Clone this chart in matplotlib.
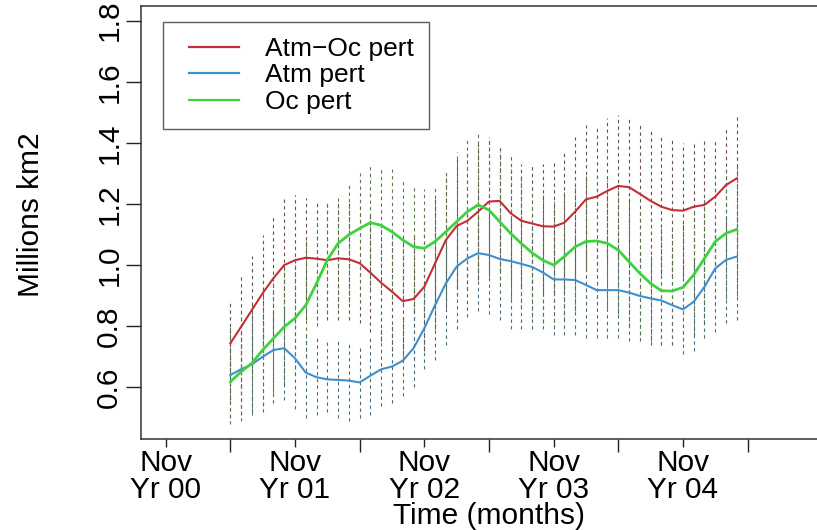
"""
Sea ice extent spread for the three perturbation ensembles
"""
import numpy as np
import matplotlib
matplotlib.use('Agg')
import matplotlib.pyplot as plt
from matplotlib.legend_handler import HandlerLine2D

plt.rcParams['font.family'] = ['Liberation Sans', 'DejaVu Sans']

# months counted from Nov Yr 00
months = np.arange(6, 54)

atm_oc = [0.744, 0.798, 0.853, 0.908, 0.957, 1.000, 1.016, 1.024, 1.021, 1.016,
          1.022, 1.019, 1.006, 0.975, 0.942, 0.913, 0.882, 0.889, 0.929, 1.006,
          1.082, 1.128, 1.145, 1.175, 1.208, 1.210, 1.170, 1.145, 1.136, 1.127,
          1.126, 1.139, 1.175, 1.215, 1.224, 1.243, 1.259, 1.255, 1.233, 1.210,
          1.191, 1.180, 1.178, 1.191, 1.197, 1.224, 1.262, 1.284]
atm = [0.640, 0.659, 0.675, 0.700, 0.722, 0.728, 0.695, 0.648, 0.633, 0.626,
       0.624, 0.622, 0.616, 0.638, 0.659, 0.668, 0.687, 0.728, 0.793, 0.869,
       0.940, 0.995, 1.022, 1.039, 1.033, 1.020, 1.013, 1.004, 0.994, 0.976,
       0.953, 0.953, 0.951, 0.935, 0.918, 0.918, 0.918, 0.910, 0.899, 0.891,
       0.884, 0.869, 0.855, 0.880, 0.929, 0.989, 1.017, 1.028]
oc = [0.618, 0.651, 0.679, 0.722, 0.760, 0.798, 0.826, 0.869, 0.940, 1.017,
      1.071, 1.099, 1.120, 1.139, 1.130, 1.109, 1.082, 1.060, 1.055, 1.077,
      1.109, 1.142, 1.175, 1.197, 1.180, 1.142, 1.104, 1.071, 1.040, 1.016,
      1.000, 1.028, 1.060, 1.077, 1.079, 1.071, 1.049, 1.011, 0.973, 0.940,
      0.916, 0.915, 0.927, 0.968, 1.022, 1.077, 1.104, 1.117]

# ensemble min / max
atm_oc_hi = [0.88, 0.96, 1.03, 1.10, 1.16, 1.22, 1.23, 1.22, 1.21, 1.21,
             1.21, 1.21, 1.20, 1.17, 1.14, 1.11, 1.09, 1.10, 1.14, 1.22,
             1.30, 1.35, 1.37, 1.40, 1.42, 1.39, 1.36, 1.33, 1.33, 1.33,
             1.34, 1.37, 1.42, 1.46, 1.46, 1.48, 1.49, 1.48, 1.46, 1.44,
             1.42, 1.41, 1.40, 1.40, 1.41, 1.41, 1.45, 1.49]
atm_oc_lo = [0.56, 0.60, 0.65, 0.70, 0.75, 0.79, 0.81, 0.82, 0.82, 0.82,
             0.82, 0.82, 0.81, 0.78, 0.75, 0.72, 0.69, 0.69, 0.72, 0.79,
             0.86, 0.90, 0.92, 0.95, 0.98, 0.98, 0.95, 0.93, 0.92, 0.91,
             0.91, 0.92, 0.95, 0.99, 1.00, 1.02, 1.03, 1.03, 1.01, 0.99,
             0.97, 0.96, 0.96, 0.97, 0.98, 1.00, 1.04, 1.06]
atm_hi = [0.77, 0.79, 0.81, 0.83, 0.85, 0.86, 0.82, 0.78, 0.76, 0.75,
          0.75, 0.75, 0.74, 0.77, 0.79, 0.80, 0.82, 0.86, 0.93, 1.00,
          1.08, 1.14, 1.17, 1.19, 1.19, 1.17, 1.16, 1.15, 1.14, 1.12,
          1.10, 1.10, 1.10, 1.08, 1.06, 1.06, 1.06, 1.05, 1.04, 1.03,
          1.02, 1.01, 1.00, 1.02, 1.07, 1.13, 1.16, 1.17]
atm_lo = [0.50, 0.51, 0.52, 0.52, 0.55, 0.56, 0.53, 0.50, 0.51, 0.52,
          0.50, 0.49, 0.50, 0.51, 0.54, 0.55, 0.57, 0.60, 0.66, 0.69,
          0.74, 0.79, 0.83, 0.85, 0.84, 0.82, 0.79, 0.79, 0.79, 0.79,
          0.77, 0.77, 0.77, 0.76, 0.76, 0.76, 0.76, 0.75, 0.75, 0.74,
          0.74, 0.74, 0.71, 0.72, 0.76, 0.78, 0.81, 0.82]
oc_hi = [0.80, 0.84, 0.87, 0.92, 0.96, 1.00, 1.03, 1.08, 1.15, 1.20,
         1.22, 1.27, 1.30, 1.33, 1.32, 1.32, 1.28, 1.26, 1.25, 1.26,
         1.31, 1.37, 1.42, 1.44, 1.41, 1.37, 1.33, 1.29, 1.26, 1.23,
         1.21, 1.24, 1.27, 1.29, 1.29, 1.28, 1.26, 1.22, 1.18, 1.15,
         1.13, 1.13, 1.14, 1.18, 1.23, 1.29, 1.32, 1.33]
oc_lo = [0.48, 0.49, 0.51, 0.54, 0.58, 0.61, 0.64, 0.70, 0.80, 0.84,
         0.86, 0.88, 0.90, 0.92, 0.91, 0.89, 0.87, 0.85, 0.85, 0.87,
         0.90, 0.93, 0.96, 0.98, 0.96, 0.93, 0.89, 0.86, 0.83, 0.81,
         0.79, 0.82, 0.85, 0.87, 0.87, 0.86, 0.84, 0.80, 0.77, 0.75,
         0.74, 0.74, 0.75, 0.77, 0.81, 0.87, 0.89, 0.90]

nov_ticks = [0, 12, 24, 36, 48]
nov_labels = ['Nov\nYr 00', 'Nov\nYr 01', 'Nov\nYr 02', 'Nov\nYr 03', 'Nov\nYr 04']
mid_ticks = [6, 18, 30, 42, 54]
y_ticks = [0.6, 0.8, 1.0, 1.2, 1.4, 1.6, 1.8]

series = [
    ('Atm\u2212Oc pert', atm_oc, atm_oc_lo, atm_oc_hi, '#c62d36', '#6c4e48', 1.5),
    ('Atm pert', atm, atm_lo, atm_hi, '#3f8fcc', '#4a6a80', 1.5),
    ('Oc pert', oc, oc_lo, oc_hi, '#3ed23e', '#587a4f', 2.0),
]


class InsetLine(HandlerLine2D):
    """legend line that starts a bit inside the handle box, like R"""
    def get_xdata(self, legend, xdescent, ydescent, width, height, fontsize):
        x = np.array([-xdescent + 0.42 * fontsize, -xdescent + 2.31 * fontsize])
        return x, x


fig = plt.figure(figsize=(8.17, 5.30), dpi=100)
# axes box runs past the right edge of the picture (R plot was cropped)
ax = fig.add_axes([0.1722, 0.1717, 0.8523, 0.8170])

for name, mean, lo, hi, col, barcol, lw in series:
    ax.vlines(months, lo, hi, colors=barcol, linestyles=(0, (3, 3)),
              linewidth=0.8, zorder=1)

for name, mean, lo, hi, col, barcol, lw in series:
    ax.plot(months, mean, color=col, linewidth=lw, label=name, zorder=3)

ax.set_xlim(-2.32, 62.3)
ax.set_ylim(0.4308, 1.848)

ax.set_xticks(nov_ticks)
ax.set_xticklabels(nov_labels, fontsize=21.5, linespacing=0.95)
ax.set_xticks(mid_ticks, minor=True)
ax.set_yticks(y_ticks)
ax.set_yticklabels([f'{v:.1f}' for v in y_ticks], fontsize=21.5,
                   rotation=90, va='center')
ax.tick_params(which='both', direction='out', width=1, color='#222222')
ax.tick_params(axis='x', which='major', length=6, pad=1.5)
ax.tick_params(axis='x', which='minor', length=9.5)
ax.tick_params(axis='y', length=10.5, pad=2)

ax.set_xlabel('Time (months)', fontsize=21.5)
ax.xaxis.set_label_coords(0.5, -0.145)
ax.set_ylabel('Millions km2', fontsize=21.5)
ax.yaxis.set_label_coords(-0.1374, 0.517)

ax.spines['right'].set_visible(False)
for s in ax.spines.values():
    s.set_color('#333333')
    s.set_linewidth(1.1)

leg = ax.legend(loc='upper left', bbox_to_anchor=(0.032, 0.9637), borderaxespad=0,
                fontsize=19, frameon=True, fancybox=False, handlelength=2.4,
                handletextpad=0.91, borderpad=0.57, labelspacing=0.095,
                handler_map={plt.Line2D: InsetLine()})
leg.get_frame().set_edgecolor('#333333')
leg.get_frame().set_linewidth(1.0)
for line in leg.get_lines():
    line.set_linewidth(1.6)

plt.savefig('out.png', dpi=100)
